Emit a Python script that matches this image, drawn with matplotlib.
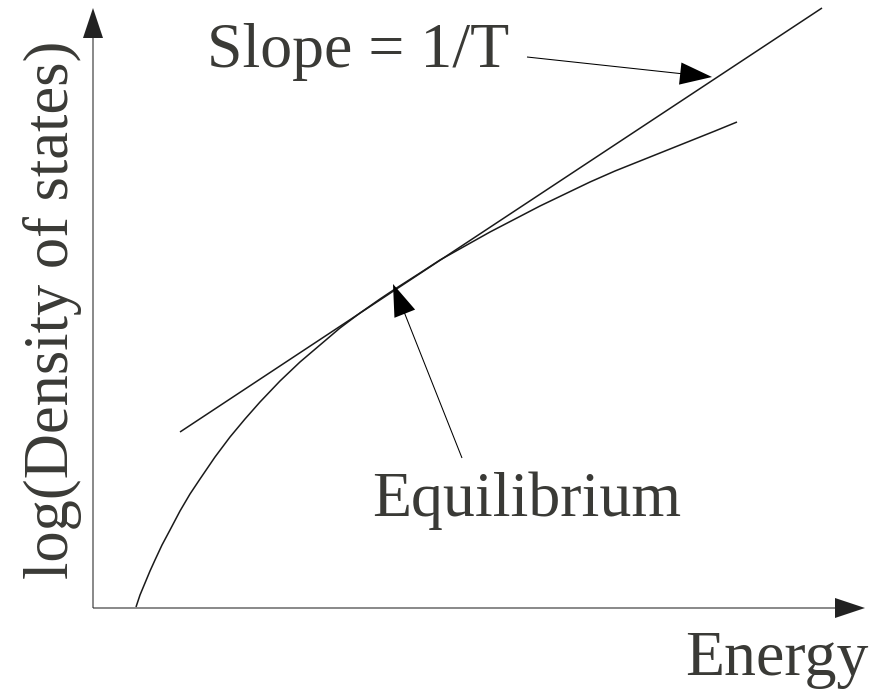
import matplotlib
matplotlib.use("Agg")
import matplotlib.pyplot as plt

# Data (schematic): energy vs log(density of states)
energy = [43, 47, 52, 57, 62, 69, 77, 87, 97, 107, 122, 137, 152, 167, 187, 207,
          227, 247, 267, 287, 302, 327, 347, 372, 397, 422, 447, 472, 497, 522,
          547, 572, 597, 622, 644]
log_dos = [1, 13, 25, 37, 48, 63, 78, 97, 114, 129, 151, 171, 189, 206, 227, 246,
           263, 280, 295, 309, 319, 335, 348, 362, 376, 389, 402, 414, 426, 437,
           447, 457, 467, 477, 486]

tangent_energy = [87, 729]
tangent_log_dos = [176, 600]

equilibrium_point = (300, 324)
equilibrium_label = (369, 150)
slope_point = (619, 531)
slope_label = (434, 551)

x_axis_end = 772
y_axis_end = 600

plt.rcParams['font.family'] = ['Liberation Serif', 'DejaVu Serif']

fig = plt.figure(figsize=(8.78, 6.91), dpi=100)
ax = fig.add_axes([0, 0, 1, 1])
ax.set_xlim(-93, 785)
ax.set_ylim(-83, 608)
ax.axis('off')

line_color = '#1a1a1a'
text_color = '#3a3a36'
lw = 1.1
ax.plot(energy, log_dos, color=line_color, lw=lw, solid_capstyle='butt')
ax.plot(tangent_energy, tangent_log_dos, color=line_color, lw=lw, solid_capstyle='butt')

def arrow(tip, start, hl=21.6, hw=14.4, color='black'):
    ax.annotate('', xy=tip, xytext=start, xycoords='data', textcoords='data',
                arrowprops=dict(width=0.75, headwidth=hw, headlength=hl,
                                facecolor=color, edgecolor='none', shrink=0))

# axes
arrow((0, y_axis_end), (0, 0), hl=21.6, hw=14.4, color='#222222')
arrow((x_axis_end, 0), (0, 0), hl=21.6, hw=14.4, color='#222222')

# annotation arrows
arrow(slope_point, slope_label, hl=23, hw=16)
arrow(equilibrium_point, equilibrium_label, hl=23, hw=16)

fs = 46
ax.text(114, 541, 'Slope = 1/T', fontsize=fs, ha='left', va='baseline', color=text_color)
ax.text(279, 92, 'Equilibrium', fontsize=fs, ha='left', va='baseline', color=text_color)
ax.text(592, -67, 'Energy', fontsize=fs, ha='left', va='baseline', color=text_color)
ax.text(-40, 29, 'log(Density of states)', fontsize=45, rotation=90,
        ha='center', va='bottom', color=text_color)

fig.savefig('out.png', dpi=100)
